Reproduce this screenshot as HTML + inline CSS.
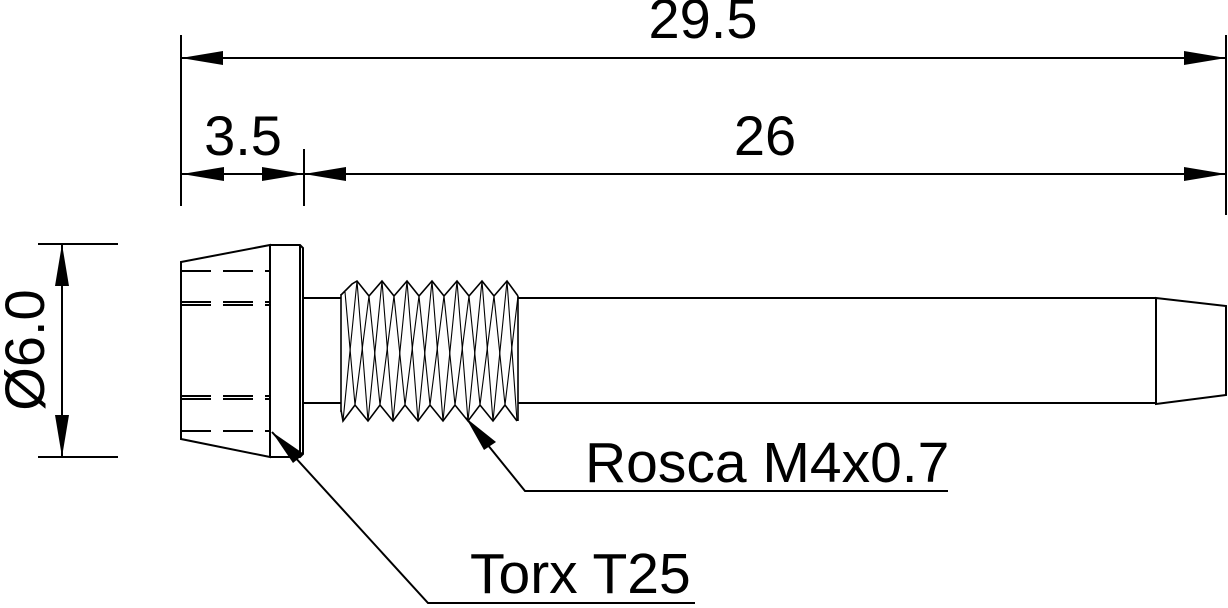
<!DOCTYPE html>
<html><head><style>html,body{margin:0;padding:0;background:#fff}svg{display:block}</style></head>
<body>
<svg width="1228" height="608" viewBox="0 0 1228 608" xmlns="http://www.w3.org/2000/svg" font-family="Liberation Sans, Arial, sans-serif">
<g stroke="#000" stroke-width="2" fill="none">
<line x1="181" y1="35" x2="181" y2="206"/>
<line x1="1226" y1="35" x2="1226" y2="215"/>
<line x1="304" y1="149" x2="304" y2="206"/>
<line x1="38" y1="244" x2="118" y2="244"/>
<line x1="38" y1="457" x2="118" y2="457"/>
<line x1="181" y1="58" x2="1226" y2="58"/>
<line x1="181" y1="174" x2="1226" y2="174"/>
<line x1="62" y1="244" x2="62" y2="457"/>
</g>
<g fill="#000">
<path d="M181 58l42-7v14z"/><path d="M1226 58l-42-7v14z"/>
<path d="M182 174l42-7v14z"/><path d="M304 174l-42-7v14z"/>
<path d="M304 174l42-7v14z"/><path d="M1226 174l-42-7v14z"/>
<path d="M62 244l-7 42h14z"/><path d="M62 457l-7-42h14z"/>
</g>
<g font-size="56" fill="#000">
<text x="703" y="38" text-anchor="middle">29.5</text>
<text x="243" y="155" text-anchor="middle">3.5</text>
<text x="765" y="155" text-anchor="middle">26</text>
<text transform="translate(44,350) rotate(-90)" text-anchor="middle">Ø6.0</text>
<text x="585" y="482" font-size="57">Rosca M4x0.7</text>
<text x="470" y="593" font-size="57">Torx T25</text>
</g>
<g stroke="#000" stroke-width="2" fill="none">
<path d="M181 262L270 245L270 457L181 439Z"/>
<path d="M270 245H300L303 248V454L300 457H270"/>
<line x1="300" y1="245" x2="300" y2="457"/>
<g stroke-dasharray="30,12">
<line x1="181" y1="271" x2="270" y2="271"/>
<line x1="181" y1="302" x2="270" y2="302"/>
<line x1="181" y1="305" x2="270" y2="305"/>
<line x1="181" y1="396" x2="270" y2="396"/>
<line x1="181" y1="399" x2="270" y2="399"/>
<line x1="181" y1="431" x2="270" y2="431"/>
</g>
<line x1="303" y1="298" x2="341" y2="298"/>
<line x1="303" y1="403" x2="341" y2="403"/>
<line x1="518" y1="298" x2="1156" y2="298"/>
<line x1="518" y1="403" x2="1156" y2="403"/>
<path d="M1156 298L1226 306V395L1156 404Z"/>
<line x1="1156" y1="298" x2="1156" y2="404"/>
<!-- thread -->
<path d="M341 295L352 284L357 281L369 296L382 281L394 296L407 281L419 296L432 281L444 296L457 281L469 296L482 281L494 296L507 281L518 296" stroke-width="1.6"/>
<path d="M341 410L343 421L355 405L368 421L380 405L393 421L405 405L418 421L430 405L443 421L455 405L468 421L480 405L493 421L505 405L517 421" stroke-width="1.6"/>
<line x1="341" y1="294" x2="341" y2="412" stroke-width="1.6"/>
<line x1="518" y1="296" x2="518" y2="421" stroke-width="1.6"/>
<g stroke-width="1.1">
<path d="M357 281L368 421M382 281L393 421M407 281L418 421M432 281L443 421M457 281L468 421M482 281L493 421M507 281L517 421"/>
<path d="M357 281L343 421M382 281L368 421M407 281L393 421M432 281L418 421M457 281L443 421M482 281L468 421M507 281L493 421"/>
<path d="M369 296L355 405M394 296L380 405M419 296L405 405M444 296L430 405M469 296L455 405M494 296L480 405M518 296L505 405"/>
<path d="M345 292L355 405M369 296L380 405M394 296L405 405M419 296L430 405M444 296L455 405M469 296L480 405M494 296L505 405"/>
</g>
<polyline points="272,432 428,603 695,603"/>
<polyline points="466,418 525,491 948,491"/>
</g>
<g fill="#000">
<path d="M272 432l32 22l-11 9z"/>
<path d="M466 418l30 24l-12 8z"/>
</g>
</svg>
</body></html>
